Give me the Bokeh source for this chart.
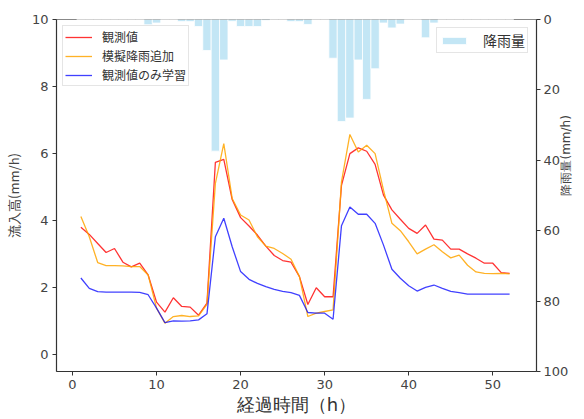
import math
from bokeh.plotting import figure
from bokeh.models import (Range1d, LinearAxis, Legend, LegendItem,
                          FixedTicker, ColumnDataSource)
from bokeh.embed import file_html
from bokeh.resources import INLINE

hours = list(range(1, 53))

observed = [3.80, 3.59, 3.32, 3.05, 3.17, 2.76, 2.62, 2.73, 2.38, 1.57,
            1.27, 1.70, 1.44, 1.42, 1.18, 1.54, 5.74, 5.83, 4.63, 4.09,
            3.84, 3.57, 3.24, 2.96, 2.81, 2.76, 2.33, 1.50, 2.00, 1.73,
            1.73, 5.05, 6.00, 6.17, 6.07, 5.68, 4.76, 4.32, 4.04, 3.77,
            3.62, 3.87, 3.45, 3.42, 3.15, 3.15, 3.01, 2.88, 2.73, 2.73,
            2.45, 2.43]

simulated = [4.12, 3.52, 2.75, 2.66, 2.66, 2.65, 2.63, 2.63, 2.38, 1.39,
             0.94, 1.14, 1.17, 1.14, 1.16, 1.50, 5.11, 6.30, 4.66, 4.17,
             4.02, 3.52, 3.24, 3.17, 3.02, 2.85, 2.33, 1.14, 1.24, 1.29,
             1.34, 5.16, 6.57, 6.05, 6.25, 6.00, 4.91, 3.92, 3.70, 3.37,
             3.01, 3.15, 3.28, 3.07, 2.89, 2.97, 2.67, 2.47, 2.43, 2.42,
             2.43, 2.41]

obs_only = [2.29, 1.98, 1.88, 1.87, 1.87, 1.87, 1.87, 1.86, 1.79, 1.39,
            0.96, 1.01, 1.00, 1.01, 1.04, 1.22, 3.52, 4.07, 3.22, 2.48,
            2.25, 2.13, 2.03, 1.95, 1.89, 1.85, 1.77, 1.26, 1.24, 1.24,
            1.06, 3.85, 4.41, 4.19, 4.19, 3.92, 3.27, 2.55, 2.28, 2.06,
            1.90, 2.01, 2.08, 1.98, 1.89, 1.85, 1.81, 1.81, 1.81, 1.81,
            1.81, 1.81]

rain = [0, 0, 0, 0, 0, 0, 0, 0, 1.5, 1.0,
        0, 0, 0.6, 0.6, 2.0, 8.8, 37.4, 11.5, 0.5, 2.0,
        2.0, 2.0, 0.3, 0, 0, 0.6, 0.6, 1.4, 0, 0,
        11.0, 29.0, 28.0, 11.5, 22.7, 14.0, 1.0, 2.4, 1.3, 0,
        0, 5.2, 1.0, 0, 0, 0, 0, 0, 0, 0,
        0, 0]

left_ticks = [0, 2, 4, 6, 8, 10]
right_ticks = [0, 20, 40, 60, 80, 100]
x_ticks = [0, 10, 20, 30, 40, 50]

label_series = ["観測値", "模擬降雨追加", "観測値のみ学習"]
label_rain = "降雨量"
xlabel = "経過時間（h）"
ylabel_left = "流入高(mm/h)"
ylabel_right = "降雨量(mm/h)"

CJK = "Noto Sans CJK JP"
NUM = "DejaVu Sans"

p = figure(width=584, height=419,
           x_range=Range1d(-1.9, 55.2), y_range=Range1d(-0.5, 10),
           output_backend="svg", toolbar_location=None,
           min_border_left=55, min_border_right=48,
           min_border_top=19, min_border_bottom=48,
           background_fill_color="white", border_fill_color="white")
p.xgrid.visible = False
p.ygrid.visible = False
p.outline_line_color = "#888888"
p.outline_line_width = 1

p.extra_y_ranges = {"rain": Range1d(100, 0)}
raxis = LinearAxis(y_range_name="rain", ticker=FixedTicker(ticks=right_ticks))
p.add_layout(raxis, "right")

p.xaxis.ticker = FixedTicker(ticks=x_ticks)
p.yaxis[0].ticker = FixedTicker(ticks=left_ticks)

for ax in [p.xaxis[0], p.yaxis[0], raxis]:
    ax.axis_line_color = "#333333"
    ax.axis_line_width = 1.2
    ax.major_tick_line_color = "#333333"
    ax.major_tick_out = 4
    ax.major_tick_in = 0
    ax.minor_tick_line_color = None
    ax.major_label_text_font = NUM
    ax.major_label_text_font_size = "13px"
    ax.major_label_text_color = "#444444"
    ax.major_label_standoff = 4
    ax.axis_label_text_font_style = "normal"

p.xaxis[0].axis_label = xlabel
p.xaxis[0].axis_label_text_font = NUM
p.xaxis[0].axis_label_text_font_size = "18px"
p.xaxis[0].axis_label_text_color = "#333333"
p.xaxis[0].axis_label_standoff = 2

p.yaxis[0].axis_label = ylabel_left
p.yaxis[0].axis_label_text_font = CJK
p.yaxis[0].axis_label_text_font_size = "13px"
p.yaxis[0].axis_label_text_color = "#444444"
p.yaxis[0].axis_label_standoff = 6

raxis.axis_label = ylabel_right
raxis.axis_label_text_font = NUM
raxis.axis_label_text_font_size = "12px"
raxis.axis_label_text_color = "#444444"
raxis.axis_label_standoff = -5
raxis.major_label_standoff = 3
if "axis_label_orientation" in raxis.properties():
    raxis.axis_label_orientation = math.pi / 2

src = ColumnDataSource(dict(x=hours, obs=observed, sim=simulated,
                            only=obs_only, rain=rain))

rb = p.vbar(x="x", top="rain", bottom=0, width=1.0, source=src,
            y_range_name="rain", fill_color="skyblue", fill_alpha=0.5,
            line_color="white", line_width=0.8)

r1 = p.line("x", "obs", source=src, line_color="red", line_alpha=0.8, line_width=1.3)
r2 = p.line("x", "sim", source=src, line_color="orange", line_alpha=0.85, line_width=1.3)
r3 = p.line("x", "only", source=src, line_color="blue", line_alpha=0.75, line_width=1.3)

leg1 = Legend(items=[LegendItem(label=label_series[0], renderers=[r1]),
                     LegendItem(label=label_series[1], renderers=[r2]),
                     LegendItem(label=label_series[2], renderers=[r3])],
              location="top_left", margin=6, padding=2, spacing=2,
              glyph_width=27, glyph_height=16, label_height=16,
              label_standoff=10,
              label_text_font=CJK, label_text_font_size="12px",
              label_text_color="#333333",
              border_line_color="#cccccc", border_line_width=1,
              background_fill_alpha=0.8)
leg2 = Legend(items=[LegendItem(label=label_rain, renderers=[rb])],
              location="top_right", margin=8, padding=2, spacing=0,
              glyph_width=30, glyph_height=9, label_height=14,
              label_standoff=14,
              label_text_font=CJK, label_text_font_size="14px",
              label_text_color="#333333",
              border_line_color="#cccccc", border_line_width=1,
              background_fill_alpha=0.8)
p.add_layout(leg1)
p.add_layout(leg2)

open("out.html", "w").write(file_html(p, INLINE))
